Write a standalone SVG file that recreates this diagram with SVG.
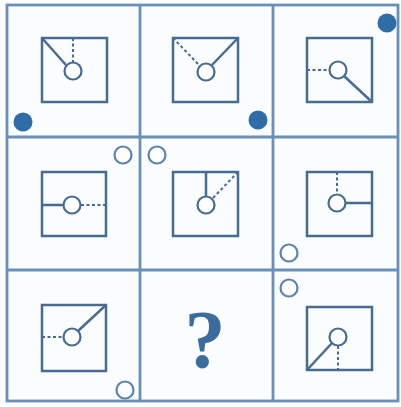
<svg xmlns="http://www.w3.org/2000/svg" width="401" height="407" viewBox="0 0 401 407">
<style>
.grid{fill:none;stroke:#6990b8;stroke-width:2.8}
.sq{fill:none;stroke:#476c92;stroke-width:2.5}
.solid{stroke:#476c92;stroke-width:2.5;fill:none}
.dash{stroke:#476c92;stroke-width:2;stroke-dasharray:3 2.5;fill:none}
.c{fill:#fff;stroke:#476c92;stroke-width:2.2}
.dot{fill:#2f6da8}
.ring{fill:#fff;stroke:#5a84ae;stroke-width:2.2}
</style>
<rect width="401" height="407" fill="#fbfcfd"/>
<g id="grid">
<rect class="grid" x="7" y="5" width="391" height="396"/>
<line class="grid" x1="140" y1="5" x2="140" y2="401"/>
<line class="grid" x1="273" y1="5" x2="273" y2="401"/>
<line class="grid" x1="7" y1="137" x2="398" y2="137"/>
<line class="grid" x1="7" y1="270" x2="398" y2="270"/>
</g>
<g id="cell1">
<rect class="sq" x="42" y="38" width="65" height="64"/>
<line class="solid" x1="42" y1="38" x2="66" y2="65"/>
<line class="dash" x1="73" y1="38" x2="73" y2="62"/>
<circle class="c" cx="73" cy="71" r="8.5"/>
<circle class="dot" cx="23" cy="122" r="9.5"/>
</g>
<g id="cell2">
<rect class="sq" x="173" y="38" width="65" height="64"/>
<line class="solid" x1="238" y1="38" x2="212" y2="65"/>
<line class="dash" x1="173" y1="38" x2="199" y2="65"/>
<circle class="c" cx="206" cy="72" r="8.5"/>
<circle class="dot" cx="258" cy="120" r="9.5"/>
</g>
<g id="cell3">
<rect class="sq" x="307" y="38" width="65" height="64"/>
<line class="solid" x1="372" y1="102" x2="344" y2="76"/>
<line class="dash" x1="307" y1="70" x2="329" y2="70"/>
<circle class="c" cx="338" cy="70" r="8.5"/>
<circle class="dot" cx="387" cy="23" r="9.5"/>
</g>
<g id="cell4">
<rect class="sq" x="42" y="172" width="64" height="64"/>
<line class="solid" x1="42" y1="205" x2="64" y2="205"/>
<line class="dash" x1="81" y1="205" x2="106" y2="205"/>
<circle class="c" cx="72" cy="205" r="8.5"/>
<circle class="ring" cx="123" cy="155" r="8.5"/>
</g>
<g id="cell5">
<rect class="sq" x="173" y="172" width="65" height="64"/>
<line class="solid" x1="206" y1="172" x2="206" y2="196"/>
<line class="dash" x1="238" y1="172" x2="212" y2="199"/>
<circle class="c" cx="206" cy="205" r="8.5"/>
<circle class="ring" cx="157" cy="155" r="8.5"/>
</g>
<g id="cell6">
<rect class="sq" x="307" y="172" width="65" height="64"/>
<line class="solid" x1="346" y1="203" x2="372" y2="203"/>
<line class="dash" x1="337" y1="172" x2="337" y2="194"/>
<circle class="c" cx="337" cy="203" r="8.5"/>
<circle class="ring" cx="289" cy="253" r="8.5"/>
</g>
<g id="cell7">
<rect class="sq" x="42" y="305" width="64" height="66"/>
<line class="solid" x1="106" y1="305" x2="78" y2="331"/>
<line class="dash" x1="42" y1="337" x2="63" y2="337"/>
<circle class="c" cx="72" cy="337" r="8.5"/>
<circle class="ring" cx="125" cy="390" r="8.5"/>
</g>
<g id="cell8">
<text x="205" y="367" font-family="Liberation Serif, serif" font-weight="bold" font-size="82" fill="#3a6d9e" text-anchor="middle">?</text>
</g>
<g id="cell9">
<rect class="sq" x="307" y="307" width="65" height="63"/>
<line class="solid" x1="307" y1="370" x2="332" y2="343"/>
<line class="dash" x1="338" y1="346" x2="338" y2="370"/>
<circle class="c" cx="338" cy="337" r="8.5"/>
<circle class="ring" cx="289" cy="288" r="8.5"/>
</g>
</svg>
